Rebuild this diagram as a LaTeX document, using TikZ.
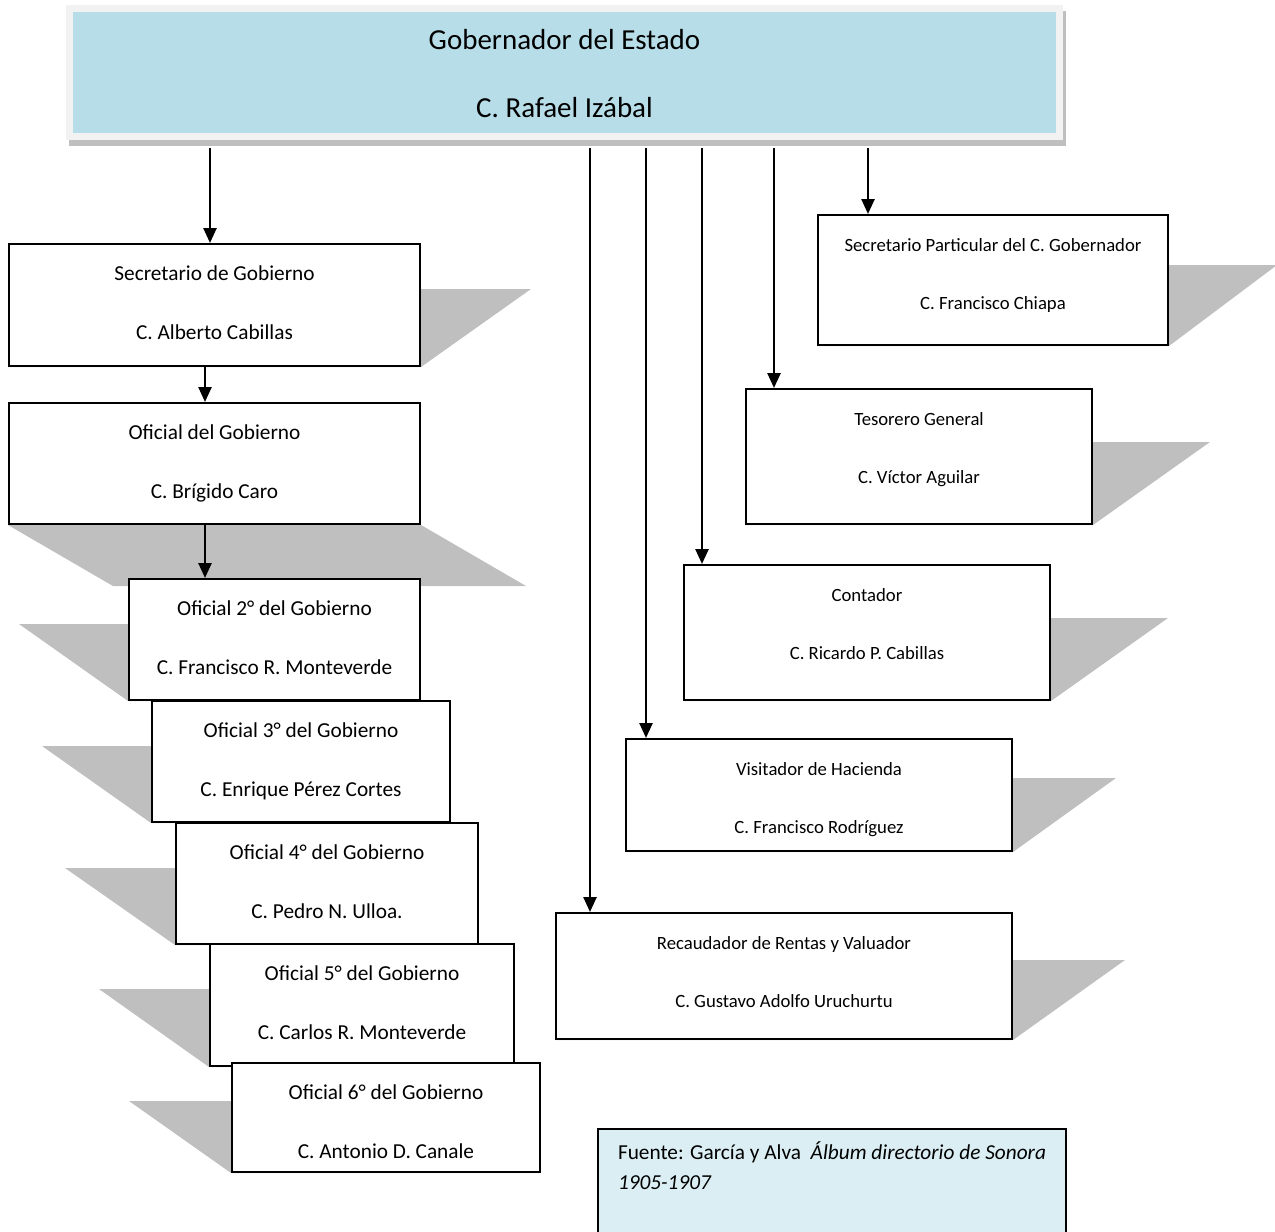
\documentclass[tikz,border=0pt]{standalone}
\usepackage{fontspec}
\setmainfont{Carlito}
\usepackage{tikz}
\usetikzlibrary{arrows.meta, backgrounds}
\definecolor{govblue}{HTML}{B7DDE8}
\definecolor{framegray}{HTML}{F2F2F2}
\definecolor{shadowgray}{HTML}{BFBFBF}
\definecolor{notefill}{HTML}{DAEEF3}
\tikzstyle{head} = [rectangle, anchor=north, minimum width=990, inner ysep=0pt, text height=109, text depth=19, align=center, draw=framegray, line width=7pt, fill=govblue, font=\fontsize{29}{68}\selectfont]
\tikzstyle{office} = [rectangle, anchor=north, inner ysep=0pt, text height=95, align=center, draw=black, line width=2pt, fill=white, font=\fontsize{21.3}{59}\selectfont]
\tikzstyle{smalloffice} = [office, text height=94, font=\fontsize{18.7}{58}\selectfont]
\tikzstyle{note} = [rectangle, anchor=north west, draw=black, line width=2pt, fill=notefill, inner xsep=20pt, inner ysep=13pt, font=\fontsize{21.3}{30}\selectfont]
\tikzstyle{arrow} = [line width=2.5pt, -{Triangle[length=15pt, width=13pt]}]
\tikzstyle{shadowfill} = [fill=shadowgray]

\begin{document}
\begin{tikzpicture}[x=1pt, y=-1pt]

\useasboundingbox (0,0) rectangle (1275,1232);

\node (gov) [head] at (564.5,5) {Gobernador del Estado\\C. Rafael Izábal};

\node (secgob) [office, minimum width=411, text depth=27] at (214.5,243) {Secretario de Gobierno\\C. Alberto Cabillas};
\node (ofgob) [office, minimum width=411, text depth=26] at (214.5,402) {Oficial del Gobierno\\C. Brígido Caro};
\node (of2) [office, minimum width=291, text depth=26] at (274.5,578) {Oficial 2° del Gobierno\\C. Francisco R. Monteverde};
\node (of3) [office, minimum width=298, text depth=26] at (301,700) {Oficial 3° del Gobierno\\C. Enrique Pérez Cortes};
\node (of4) [office, minimum width=302, text depth=26] at (327,822) {Oficial 4° del Gobierno\\C. Pedro N. Ulloa.};
\node (of5) [office, minimum width=304, text depth=27] at (362,943) {Oficial 5° del Gobierno\\C. Carlos R. Monteverde};
\node (of6) [office, minimum width=308, text depth=14] at (386,1062) {Oficial 6° del Gobierno\\C. Antonio D. Canale};

\node (secpart) [smalloffice, minimum width=350, text depth=36] at (993,214) {Secretario Particular del C. Gobernador\\C. Francisco Chiapa};
\node (teso) [smalloffice, minimum width=346, text depth=41] at (919,388) {Tesorero General\\C. Víctor Aguilar};
\node (conta) [smalloffice, minimum width=366, text depth=41] at (867,564) {Contador\\C. Ricardo P. Cabillas};
\node (visit) [smalloffice, minimum width=386, text depth=18] at (819,738) {Visitador de Hacienda\\C. Francisco Rodríguez};
\node (recau) [smalloffice, minimum width=456, text depth=32] at (784,912) {Recaudador de Rentas y Valuador\\C. Gustavo Adolfo Uruchurtu};

\node (fuente) [note] at (597,1128) {\parbox[t][92pt][t]{428pt}{Fuente: García y Alva\ \ \textit{Álbum directorio de Sonora\\1905-1907}}};

\begin{scope}[on background layer]
\fill [shadowgray] ([xshift=3pt, yshift=-6pt]gov.north west) rectangle ([xshift=3pt, yshift=-6pt]gov.south east);
\fill [shadowfill] (secgob.south west) -- (secgob.south east) -- ++(110,-78) -- ([shift={(110,-78)}]secgob.south west) -- cycle;
\fill [shadowfill] (ofgob.south west) -- (ofgob.south east) -- ++(105,61) -- ([shift={(105,61)}]ofgob.south west) -- cycle;
\fill [shadowfill] (of2.south west) -- (of2.south east) -- ++(-109,-77) -- ([shift={(-109,-77)}]of2.south west) -- cycle;
\fill [shadowfill] (of3.south west) -- (of3.south east) -- ++(-109,-77) -- ([shift={(-109,-77)}]of3.south west) -- cycle;
\fill [shadowfill] (of4.south west) -- (of4.south east) -- ++(-110,-77) -- ([shift={(-110,-77)}]of4.south west) -- cycle;
\fill [shadowfill] (of5.south west) -- (of5.south east) -- ++(-110,-78) -- ([shift={(-110,-78)}]of5.south west) -- cycle;
\fill [shadowfill] (of6.south west) -- (of6.south east) -- ++(-102,-72) -- ([shift={(-102,-72)}]of6.south west) -- cycle;
\fill [shadowfill] (secpart.south west) -- (secpart.south east) -- ++(108,-81) -- ([shift={(108,-81)}]secpart.south west) -- cycle;
\fill [shadowfill] (teso.south west) -- (teso.south east) -- ++(117,-83) -- ([shift={(117,-83)}]teso.south west) -- cycle;
\fill [shadowfill] (conta.south west) -- (conta.south east) -- ++(117,-83) -- ([shift={(117,-83)}]conta.south west) -- cycle;
\fill [shadowfill] (visit.south west) -- (visit.south east) -- ++(103,-74) -- ([shift={(103,-74)}]visit.south west) -- cycle;
\fill [shadowfill] (recau.south west) -- (recau.south east) -- ++(112,-80) -- ([shift={(112,-80)}]recau.south west) -- cycle;
\end{scope}

\coordinate (t1) at (210,148);
\coordinate (t2) at (590,148);
\coordinate (t3) at (646,148);
\coordinate (t4) at (702,148);
\coordinate (t5) at (774,148);
\coordinate (t6) at (868,148);
\coordinate (chain) at (205,0);

\draw [arrow] (t1) -- (t1 |- secgob.north);
\draw [arrow] (t2) -- (t2 |- recau.north);
\draw [arrow] (t3) -- (t3 |- visit.north);
\draw [arrow] (t4) -- (t4 |- conta.north);
\draw [arrow] (t5) -- (t5 |- teso.north);
\draw [arrow] (t6) -- (t6 |- secpart.north);
\draw [arrow] (secgob.south -| chain) -- (ofgob.north -| chain);
\draw [arrow] (ofgob.south -| chain) -- (of2.north -| chain);

\end{tikzpicture}
\end{document}
